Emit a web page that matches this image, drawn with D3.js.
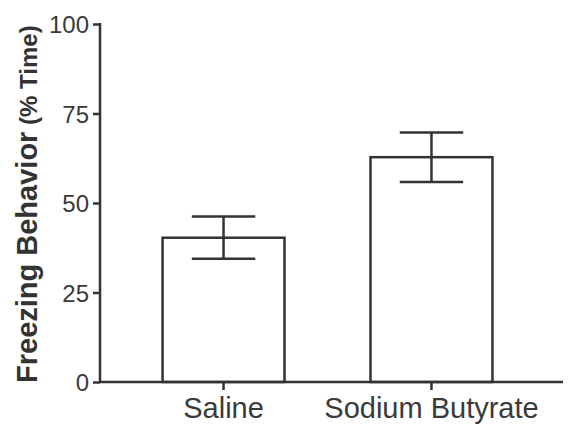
<!DOCTYPE html>
<html>
<head>
<meta charset="utf-8">
<style>
  body { margin: 0; background: #fff; }
  text { font-family: "Liberation Sans", Arial, sans-serif; fill: #333; }
</style>
</head>
<body>
<div id="chart"></div>
<script src="https://d3js.org/d3.v7.min.js"></script>
<script>
// data
var categories = ["Saline", "Sodium Butyrate"];
var means = [40.3, 62.8];
var sems = [5.9, 6.9];
var yTicks = [0, 25, 50, 75, 100];

var data = categories.map(function(c, i) {
  return { name: c, val: means[i], sem: sems[i] };
});

var W = 571, H = 425;
var plotL = 100, plotR = 563, plotT = 24, plotB = 382;
var ink = "#333";

var svg = d3.select("#chart").append("svg")
  .attr("width", W)
  .attr("height", H);

var x = d3.scaleBand()
  .domain(categories)
  .range([plotL, plotR])
  .paddingInner(0.4135)
  .paddingOuter(0.32)
  .align(0.47);

var y = d3.scaleLinear()
  .domain([0, 100])
  .range([plotB, plotT]);

// bars
svg.selectAll(".bar")
  .data(data)
  .enter().append("rect")
  .attr("class", "bar")
  .attr("x", function(d) { return x(d.name); })
  .attr("y", function(d) { return y(d.val); })
  .attr("width", x.bandwidth())
  .attr("height", function(d) { return plotB - y(d.val); })
  .style("fill", "#fff")
  .style("stroke", ink)
  .style("stroke-width", 2.5);

// error bars
var capW = x.bandwidth() * 0.52;
var err = svg.selectAll(".err")
  .data(data)
  .enter().append("g")
  .attr("class", "err")
  .style("stroke", ink)
  .style("stroke-width", 2.5);

err.append("line")
  .attr("x1", function(d) { return x(d.name) + x.bandwidth() / 2; })
  .attr("x2", function(d) { return x(d.name) + x.bandwidth() / 2; })
  .attr("y1", function(d) { return y(d.val + d.sem); })
  .attr("y2", function(d) { return y(d.val - d.sem); });

[1, -1].forEach(function(s) {
  err.append("line")
    .attr("x1", function(d) { return x(d.name) + x.bandwidth() / 2 - capW / 2; })
    .attr("x2", function(d) { return x(d.name) + x.bandwidth() / 2 + capW / 2; })
    .attr("y1", function(d) { return y(d.val + s * d.sem); })
    .attr("y2", function(d) { return y(d.val + s * d.sem); });
});

// y axis
var yAxis = svg.append("g")
  .attr("transform", "translate(" + plotL + ",0)")
  .call(d3.axisLeft(y).tickValues(yTicks).tickSize(7).tickPadding(4));

// x axis
var xAxis = svg.append("g")
  .attr("transform", "translate(0," + plotB + ")")
  .call(d3.axisBottom(x).tickSize(8).tickPadding(8).tickSizeOuter(0));

[yAxis, xAxis].forEach(function(a) {
  a.select(".domain").style("stroke", ink).style("stroke-width", 2.5);
  a.selectAll(".tick line").style("stroke", ink).style("stroke-width", 2.5);
});
yAxis.select(".domain").attr("d", "M0," + (plotT - 1) + "V" + (plotB + 1));
xAxis.select(".domain").attr("d", "M" + (plotL - 1) + ",0H" + plotR);

yAxis.selectAll("text")
  .style("font-size", "24px")
  .style("fill", "#3a3a3a")
  .attr("dy", "0.36em");

xAxis.selectAll("text")
  .style("font-size", "29px")
  .style("fill", "#3a3a3a")
  .attr("dy", "0.69em");

// y title
var title = svg.append("text")
  .attr("transform", "translate(37," + (plotB + 1) + ") rotate(-90)")
  .attr("text-anchor", "start")
  .style("font-weight", "bold")
  .style("fill", ink);
title.append("tspan").text("Freezing Behavior").style("font-size", "29px");
title.append("tspan").text(" (% Time)").style("font-size", "24px");
</script>
</body>
</html>
